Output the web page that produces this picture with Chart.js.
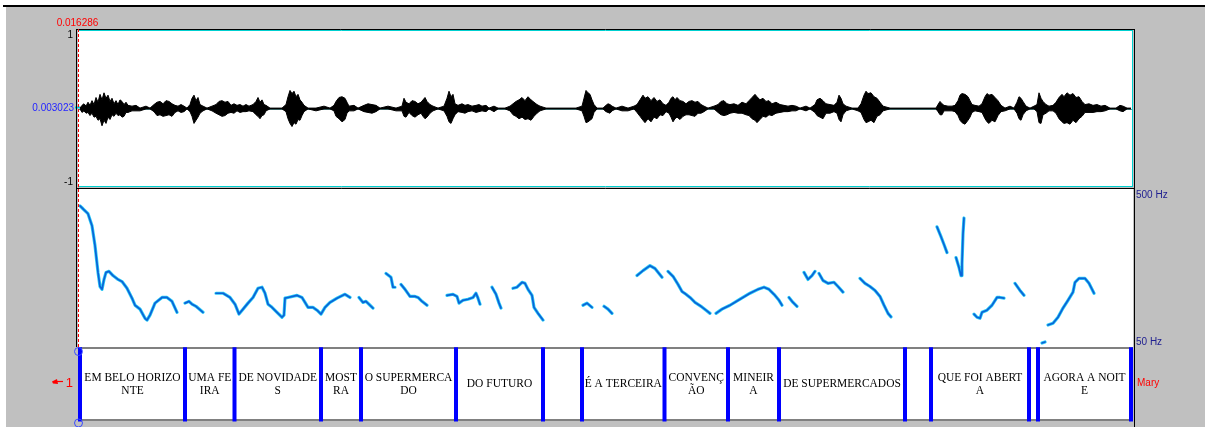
<!DOCTYPE html>
<html>
<head>
<meta charset="utf-8">
<script src="https://cdn.jsdelivr.net/npm/chart.js@4.4.1/dist/chart.umd.min.js"></script>
<style>
  html, body { margin: 0; padding: 0; background: #c0c0c0; overflow: hidden; }
  #stage { position: relative; width: 1205px; height: 427px; }
  #stage canvas { position: absolute; left: 0; top: 0; }
</style>
</head>
<body>
<div id="stage">
  <canvas id="wave" width="1205" height="427"></canvas>
  <canvas id="pitch" width="1205" height="427"></canvas>
  <canvas id="tier" width="1205" height="427"></canvas>
</div>
<script>
// ---- time axis (seconds) ----
const TIME_END = 10.55;
const CURSOR_TIME = 0.016286;
const CURSOR_AMPLITUDE = 0.003023;
const PITCH_FLOOR = 50;
const PITCH_CEILING = 500;

// ---- waveform envelope: time (s), positive peak, negative peak ----
const waveTime = [
  0.02, 0.04, 0.06, 0.08, 0.10, 0.12, 0.14, 0.16, 0.18, 0.20,
  0.22, 0.24, 0.26, 0.28, 0.30, 0.32, 0.34, 0.36, 0.38, 0.40,
  0.42, 0.44, 0.46, 0.48, 0.50, 0.54, 0.58, 0.62, 0.68, 0.72,
  0.76, 0.79, 0.82, 0.85, 0.88, 0.91, 0.94, 0.97, 1.00, 1.03,
  1.06, 1.09, 1.12, 1.14, 1.16, 1.18, 1.20, 1.22, 1.25, 1.29,
  1.34, 1.38, 1.41, 1.44, 1.47, 1.50, 1.53, 1.56, 1.59, 1.62,
  1.65, 1.68, 1.71, 1.75, 1.78, 1.80, 1.82, 1.84, 1.86, 1.88,
  1.92, 2.04, 2.08, 2.10, 2.12, 2.14, 2.16, 2.18, 2.20, 2.22,
  2.24, 2.26, 2.30, 2.38, 2.46, 2.52, 2.56, 2.58, 2.61, 2.64,
  2.67, 2.69, 2.71, 2.76, 2.80, 2.86, 2.90, 2.94, 2.98, 3.02,
  3.10, 3.18, 3.24, 3.26, 3.28, 3.31, 3.34, 3.37, 3.40, 3.43,
  3.45, 3.47, 3.49, 3.52, 3.55, 3.60, 3.66, 3.69, 3.71, 3.73,
  3.75, 3.77, 3.80, 3.84, 3.87, 3.90, 3.94, 3.98, 4.01, 4.04,
  4.08, 4.11, 4.16, 4.20, 4.27, 4.32, 4.35, 4.38, 4.41, 4.44,
  4.47, 4.50, 4.53, 4.56, 4.59, 4.62, 4.68, 4.98, 5.04, 5.06,
  5.08, 5.10, 5.12, 5.14, 5.16, 5.19, 5.25, 5.28, 5.30, 5.32,
  5.34, 5.38, 5.44, 5.50, 5.56, 5.59, 5.62, 5.65, 5.67, 5.70,
  5.73, 5.76, 5.79, 5.82, 5.85, 5.88, 5.91, 5.93, 5.95, 5.97,
  5.99, 6.02, 6.05, 6.08, 6.11, 6.14, 6.17, 6.20, 6.23, 6.26,
  6.30, 6.36, 6.40, 6.43, 6.46, 6.49, 6.52, 6.56, 6.60, 6.64,
  6.68, 6.71, 6.74, 6.77, 6.79, 6.82, 6.85, 6.88, 6.91, 6.94,
  6.98, 7.02, 7.06, 7.10, 7.14, 7.18, 7.22, 7.28, 7.32, 7.37,
  7.39, 7.42, 7.45, 7.48, 7.52, 7.56, 7.59, 7.61, 7.63, 7.65,
  7.68, 7.74, 7.80, 7.83, 7.86, 7.88, 7.90, 7.93, 7.96, 7.99,
  8.02, 8.05, 8.12, 8.58, 8.60, 8.62, 8.64, 8.66, 8.70, 8.74,
  8.77, 8.80, 8.82, 8.84, 8.87, 8.90, 8.92, 8.94, 8.97, 9.01,
  9.04, 9.07, 9.09, 9.11, 9.14, 9.17, 9.20, 9.23, 9.27, 9.32,
  9.36, 9.39, 9.41, 9.43, 9.45, 9.48, 9.52, 9.56, 9.59, 9.61,
  9.63, 9.65, 9.68, 9.71, 9.75, 9.78, 9.81, 9.84, 9.86, 9.89,
  9.92, 9.95, 9.98, 10.01, 10.04, 10.07, 10.11, 10.15, 10.19, 10.23,
  10.27, 10.32, 10.38, 10.42, 10.45, 10.49, 10.53
];
const waveTop = [
  .005, .04, .06, .03, .08, .04, .10, .05, .14, .08,
  .18, .11, .20, .13, .17, .09, .13, .06, .10, .05,
  .11, .09, .05, .08, .04, .03, .04, .005, .03, .005,
  .05, .08, .09, .06, .10, .09, .06, .04, .03, .05,
  .03, .005, .05, .13, .17, .10, .14, .05, .03, .005,
  .03, .05, .09, .10, .08, .09, .04, .06, .04, .05,
  .03, .05, .03, .05, .09, .14, .08, .11, .05, .04,
  .005, .005, .05, .15, .23, .19, .22, .15, .18, .11,
  .08, .04, .005, .005, .03, .005, .04, .09, .14, .15,
  .13, .08, .03, .04, .005, .04, .06, .05, .04, .005,
  .03, .005, .03, .13, .08, .06, .10, .09, .06, .08,
  .11, .14, .09, .05, .03, .005, .03, .13, .22, .15,
  .18, .06, .04, .06, .04, .05, .03, .04, .05, .03,
  .04, .005, .03, .005, .005, .03, .06, .09, .11, .14,
  .10, .15, .11, .08, .05, .03, .005, .005, .03, .13,
  .23, .20, .18, .11, .05, .005, .005, .04, .06, .05,
  .03, .005, .03, .005, .03, .05, .11, .17, .13, .15,
  .10, .14, .09, .11, .06, .04, .08, .13, .15, .11,
  .14, .10, .09, .06, .09, .10, .08, .09, .05, .03,
  .005, .03, .05, .09, .10, .06, .05, .06, .04, .08,
  .06, .10, .14, .18, .15, .11, .13, .09, .10, .06,
  .08, .05, .04, .03, .04, .03, .005, .03, .005, .05,
  .11, .13, .10, .06, .05, .04, .08, .17, .13, .06,
  .03, .005, .005, .06, .17, .22, .19, .20, .15, .13,
  .08, .03, .005, .005, .05, .09, .06, .04, .03, .03,
  .04, .10, .17, .19, .18, .15, .10, .05, .04, .03,
  .06, .15, .19, .17, .18, .14, .10, .04, .005, .03,
  .005, .08, .15, .13, .09, .03, .005, .03, .05, .20,
  .13, .09, .05, .03, .04, .08, .14, .18, .15, .20,
  .17, .19, .14, .15, .09, .05, .06, .04, .05, .03,
  .04, .005, .005, .04, .03, .005, .005
];
const waveBottom = [
  -.005, -.05, -.03, -.06, -.05, -.09, -.06, -.11, -.10, -.15,
  -.13, -.22, -.15, -.19, -.11, -.14, -.08, -.10, -.06, -.09,
  -.08, -.11, -.10, -.05, -.05, -.03, -.03, -.03, -.005, -.005,
  -.04, -.09, -.08, -.10, -.09, -.08, -.10, -.05, -.03, -.05,
  -.04, -.005, -.04, -.10, -.19, -.15, -.11, -.06, -.03, -.005,
  -.03, -.06, -.08, -.10, -.09, -.06, -.05, -.06, -.03, -.05,
  -.04, -.04, -.03, -.04, -.08, -.10, -.13, -.09, -.08, -.03,
  -.005, -.005, -.04, -.13, -.19, -.23, -.18, -.20, -.14, -.15,
  -.09, -.04, -.005, -.03, -.005, -.005, -.03, -.10, -.13, -.17,
  -.14, -.06, -.03, -.03, -.005, -.04, -.05, -.06, -.04, -.005,
  -.005, -.03, -.03, -.10, -.11, -.05, -.09, -.11, -.08, -.06,
  -.10, -.13, -.11, -.06, -.03, -.005, -.03, -.10, -.17, -.19,
  -.13, -.08, -.04, -.05, -.06, -.04, -.03, -.05, -.04, -.03,
  -.04, -.005, -.04, -.005, -.005, -.03, -.08, -.10, -.13, -.11,
  -.14, -.13, -.15, -.10, -.06, -.03, -.005, -.005, -.03, -.10,
  -.18, -.17, -.15, -.13, -.05, -.005, -.005, -.04, -.05, -.06,
  -.03, -.005, -.03, -.03, -.005, -.05, -.10, -.15, -.18, -.13,
  -.17, -.11, -.13, -.08, -.09, -.04, -.06, -.11, -.17, -.13,
  -.11, -.14, -.10, -.08, -.08, -.09, -.10, -.06, -.06, -.04,
  -.005, -.005, -.05, -.08, -.09, -.08, -.06, -.05, -.06, -.06,
  -.08, -.09, -.13, -.15, -.18, -.14, -.10, -.11, -.08, -.09,
  -.06, -.05, -.04, -.04, -.03, -.03, -.005, -.03, -.005, -.05,
  -.09, -.11, -.13, -.06, -.06, -.04, -.06, -.14, -.17, -.08,
  -.03, -.005, -.03, -.05, -.14, -.18, -.17, -.15, -.18, -.10,
  -.08, -.03, -.005, -.005, -.04, -.08, -.08, -.03, -.03, -.03,
  -.04, -.09, -.15, -.18, -.20, -.15, -.11, -.05, -.03, -.04,
  -.05, -.13, -.17, -.19, -.15, -.17, -.09, -.04, -.03, -.005,
  -.005, -.06, -.13, -.15, -.08, -.03, -.005, -.005, -.04, -.18,
  -.19, -.08, -.06, -.03, -.03, -.06, -.13, -.17, -.19, -.18,
  -.20, -.15, -.18, -.13, -.10, -.05, -.05, -.05, -.04, -.04,
  -.03, -.005, -.005, -.03, -.04, -.005, -.005
];

// ---- pitch contour (Hz); null separates voiced stretches ----
const pitchTime = [
  0.02, 0.05, 0.10, 0.14, 0.17, 0.20, 0.22, 0.24, 0.26, 0.28, 0.31, 0.35, 0.40, 0.44, 0.49, 0.54, 0.57, 0.62, 0.67, 0.69, 0.72, 0.77, 0.84, 0.89, 0.94, 0.99, null,
  1.07, 1.11, 1.14, 1.18, 1.25, null,
  1.38, 1.45, 1.52, 1.57, 1.61, 1.65, 1.70, 1.75, 1.80, 1.84, 1.87, 1.90, 1.94, 1.99, 2.04, 2.06, 2.07, 2.10, 2.19, 2.24, 2.27, 2.30, 2.35, 2.39, 2.43, 2.47, 2.52, 2.59, 2.67, 2.72, null,
  2.81, 2.85, 2.88, 2.92, 2.95, null,
  3.08, 3.13, 3.15, 3.17, null,
  3.23, 3.27, 3.32, 3.37, 3.40, 3.44, 3.49, null,
  3.69, 3.75, 3.79, 3.81, 3.85, 3.90, 3.95, 3.98, 4.00, 4.02, null,
  4.14, 4.18, 4.21, 4.23, null,
  4.35, 4.39, 4.44, 4.47, 4.50, 4.54, 4.56, 4.60, 4.65, null,
  5.05, 5.09, 5.14, null,
  5.26, 5.30, 5.34, null,
  5.59, 5.65, 5.72, 5.77, 5.84, null,
  5.90, 5.95, 6.00, 6.04, 6.08, 6.12, 6.17, 6.23, 6.28, 6.32, null,
  6.38, 6.44, 6.52, 6.62, 6.72, 6.80, 6.86, 6.91, 6.96, 7.01, 7.04, null,
  7.11, 7.15, 7.19, null,
  7.26, 7.30, 7.34, 7.37, null,
  7.41, 7.45, 7.50, 7.56, 7.60, 7.65, null,
  7.82, 7.87, 7.92, 7.97, 8.02, 8.06, 8.10, 8.13, null,
  8.59, 8.63, 8.66, 8.69, null,
  8.78, 8.81, 8.83, 8.84, 8.85, 8.86, null,
  8.96, 8.99, 9.02, 9.04, 9.09, 9.14, 9.19, 9.22, 9.26, null,
  9.37, 9.42, 9.46, null,
  9.64, 9.67, null,
  9.70, 9.75, 9.80, 9.85, 9.90, 9.95, 9.97, 10.01, 10.07, 10.11, 10.16
];
const pitchHz = [
  452, 444, 430, 396, 340, 264, 224, 216, 244, 264, 267, 255, 244, 238, 219, 191, 171, 160, 134, 129, 143, 177, 193, 193, 182, 151, null,
  177, 182, 174, 168, 151, null,
  205, 205, 193, 174, 146, 160, 177, 193, 219, 222, 205, 174, 165, 151, 137, 143, 191, 193, 199, 193, 179, 165, 165, 157, 146, 165, 179, 191, 202, 193, null,
  193, 179, 182, 171, 163, null,
  261, 250, 222, 222, null,
  230, 216, 196, 196, 193, 182, 171, null,
  199, 202, 196, 177, 185, 188, 193, 205, 191, 174, null,
  222, 202, 177, 163, null,
  219, 222, 236, 233, 216, 199, 165, 148, 129, null,
  171, 177, 165, null,
  168, 160, 148, null,
  255, 269, 283, 275, 250, null,
  267, 253, 230, 210, 202, 193, 179, 168, 157, 148, null,
  148, 160, 171, 188, 205, 216, 222, 216, 202, 185, 171, null,
  193, 179, 168, null,
  264, 244, 255, 267, null,
  261, 241, 233, 236, 224, 208, null,
  247, 233, 224, 213, 196, 171, 148, 138, null,
  393, 365, 343, 320, null,
  306, 278, 255, 289, 373, 418, null,
  146, 137, 134, 151, 157, 171, 193, 193, 191, null,
  233, 213, 199, null,
  64, 67, null,
  115, 120, 137, 163, 185, 208, 236, 247, 247, 233, 205
];

// ---- interval tier "Mary" ----
const tierName = 'Mary';
const tierNumber = '1';
const tierBounds = [0.02, 1.07, 1.565, 2.43, 2.83, 3.78, 4.65, 5.04, 5.865, 6.50, 7.01, 8.27, 8.53, 9.51, 9.60, 10.53];
const tierLabels = [
  'EM BELO HORIZO\nNTE', 'UMA FE\nIRA', 'DE NOVIDADE\nS', 'MOST\nRA', 'O SUPERMERCA\nDO',
  'DO FUTURO', '', 'É A TERCEIRA', 'CONVENÇ\nÃO', 'MINEIR\nA',
  'DE SUPERMERCADOS', '', 'QUE FOI ABERT\nA', '', 'AGORA A NOIT\nE'
];

// ---- shared settings ----
const SANS = '"Liberation Sans", Arial, sans-serif';
const timeAxis = () => ({ type: 'linear', min: 0, max: TIME_END, display: false });
const baseOptions = (padding) => ({
  responsive: false,
  animation: false,
  devicePixelRatio: 1,
  events: [],
  layout: { padding },
  plugins: { legend: { display: false }, tooltip: { enabled: false } }
});
function hLine(ctx, x1, x2, y, color, w) {
  ctx.strokeStyle = color; ctx.lineWidth = w || 1;
  ctx.beginPath(); ctx.moveTo(x1, y); ctx.lineTo(x2, y); ctx.stroke();
}
function vLine(ctx, x, y1, y2, color, w) {
  ctx.strokeStyle = color; ctx.lineWidth = w || 1;
  ctx.beginPath(); ctx.moveTo(x, y1); ctx.lineTo(x, y2); ctx.stroke();
}

// ---- waveform panel ----
const wavePanel = {
  id: 'wavePanel',
  beforeDatasetsDraw(chart) {
    const { ctx, chartArea: a, scales: { y } } = chart;
    ctx.save();
    ctx.fillStyle = '#fff';
    ctx.fillRect(0, 0, chart.width, 5);
    ctx.fillRect(0, 0, 6, chart.height);
    ctx.fillStyle = '#000';
    ctx.fillRect(3, 5, chart.width - 3, 2);
    ctx.fillStyle = '#fff';
    ctx.fillRect(a.left, a.top, a.right - a.left, a.bottom - a.top);
    const y0 = Math.round(y.getPixelForValue(0)) + 0.5;
    hLine(ctx, a.left, a.right, y0, '#5a9a9a', 1);
    ctx.restore();
  },
  afterDraw(chart) {
    const { ctx, chartArea: a, scales: { y } } = chart;
    ctx.save();
    hLine(ctx, a.left, a.right, a.top + 0.5, '#00d0d0', 1);
    hLine(ctx, a.left, a.right, a.bottom - 0.5, '#00d0d0', 1);
    vLine(ctx, a.right - 0.5, a.top, a.bottom, '#00d0d0', 1);
    const yc = y.getPixelForValue(CURSOR_AMPLITUDE);
    hLine(ctx, a.left - 3, a.left + 2, Math.round(yc) - 0.5, '#00c8d8', 2);
    ctx.font = '10px ' + SANS;
    ctx.textAlign = 'right';
    ctx.textBaseline = 'alphabetic';
    ctx.fillStyle = '#000';
    ctx.fillText('1', a.left - 5, y.getPixelForValue(1) + 8);
    ctx.fillText('-1', a.left - 5, y.getPixelForValue(-1) - 2);
    ctx.fillStyle = '#2424ff';
    ctx.fillText(String(CURSOR_AMPLITUDE), a.left - 4, yc + 3);
    ctx.restore();
  }
};

new Chart(document.getElementById('wave'), {
  type: 'line',
  data: {
    datasets: [
      {
        data: waveTime.map((t, i) => ({ x: t, y: waveTop[i] })),
        borderColor: '#000', backgroundColor: '#000', borderWidth: 1,
        pointRadius: 0, tension: 0, fill: '+1'
      },
      {
        data: waveTime.map((t, i) => ({ x: t, y: waveBottom[i] })),
        borderColor: '#000', borderWidth: 1, pointRadius: 0, tension: 0, fill: false
      }
    ]
  },
  options: Object.assign(baseOptions({ left: 78, right: 72, top: 30, bottom: 240 }), {
    scales: { x: timeAxis(), y: { type: 'linear', min: -1, max: 1, display: false } }
  }),
  plugins: [wavePanel]
});

// ---- pitch panel ----
const pitchPanel = {
  id: 'pitchPanel',
  beforeDatasetsDraw(chart) {
    const { ctx, chartArea: a } = chart;
    ctx.save();
    ctx.fillStyle = '#fff';
    ctx.fillRect(a.left, a.top, a.right - a.left, a.bottom - a.top);
    ctx.restore();
  },
  afterDraw(chart) {
    const { ctx, chartArea: a, scales: { y } } = chart;
    ctx.save();
    ctx.font = '10px ' + SANS;
    ctx.fillStyle = '#202090';
    ctx.textAlign = 'left';
    ctx.textBaseline = 'alphabetic';
    ctx.fillText(PITCH_CEILING + ' Hz', a.right + 3, y.getPixelForValue(PITCH_CEILING) + 8.5);
    ctx.fillText(PITCH_FLOOR + ' Hz', a.right + 3, y.getPixelForValue(PITCH_FLOOR) - 3);
    ctx.restore();
  }
};

const pitchPoints = pitchTime.map((t, i) => ({ x: t === null ? pitchTime[i - 1] : t, y: pitchHz[i] }));

// dataset 0 is painted last, so the blue core goes first and the cyan rim second
new Chart(document.getElementById('pitch'), {
  type: 'line',
  data: {
    datasets: [
      {
        data: pitchPoints, borderColor: '#0b62d8', borderWidth: 1.7,
        pointRadius: 0, tension: 0, spanGaps: false, borderJoinStyle: 'round', borderCapStyle: 'round'
      },
      {
        data: pitchPoints, borderColor: '#2ccdf6', borderWidth: 3.2,
        pointRadius: 0, tension: 0, spanGaps: false, borderJoinStyle: 'round', borderCapStyle: 'round'
      }
    ]
  },
  options: Object.assign(baseOptions({ left: 78, right: 72, top: 189, bottom: 79 }), {
    scales: { x: timeAxis(), y: { type: 'linear', min: PITCH_FLOOR, max: PITCH_CEILING, display: false } }
  }),
  plugins: [pitchPanel]
});

// ---- text tier, frame and time cursor ----
const tierPanel = {
  id: 'tierPanel',
  beforeDatasetsDraw(chart) {
    const { ctx, chartArea: a } = chart;
    ctx.save();
    ctx.fillStyle = '#fff';
    ctx.fillRect(a.left, a.top, a.right - a.left, a.bottom - a.top);
    ctx.fillStyle = '#808080';
    ctx.fillRect(a.left, a.top - 1, a.right - a.left, 2);
    ctx.fillRect(a.left, a.bottom - 1, a.right - a.left, 2);
    ctx.restore();
  },
  afterDraw(chart) {
    const { ctx, chartArea: a, scales: { x } } = chart;
    ctx.save();

    // interval texts
    ctx.font = '13.5px "Liberation Serif", "Times New Roman", serif';
    ctx.fillStyle = '#000';
    ctx.textAlign = 'center';
    ctx.textBaseline = 'alphabetic';
    const mid = (a.top + a.bottom) / 2;
    tierLabels.forEach((label, i) => {
      if (!label) return;
      const cx = (x.getPixelForValue(tierBounds[i]) + x.getPixelForValue(tierBounds[i + 1])) / 2;
      const lines = label.split('\n');
      const first = mid + 3 - (lines.length - 1) * 6.5;
      lines.forEach((line, k) => {
        ctx.save();
        ctx.translate(cx, first + k * 13);
        ctx.scale(0.85, 1);
        ctx.fillText(line, 0, 0);
        ctx.restore();
      });
    });

    // boundary handles on the first boundary
    const bx = x.getPixelForValue(tierBounds[0]) - 1.5;
    ctx.strokeStyle = '#3a4cff';
    ctx.lineWidth = 1;
    ctx.beginPath(); ctx.arc(bx, a.top + 3.5, 4, 0, Math.PI * 2); ctx.stroke();
    ctx.beginPath(); ctx.arc(bx, a.bottom + 3, 4, 0, Math.PI * 2); ctx.stroke();

    // tier number with pointer, and tier name
    ctx.fillStyle = '#ff0000';
    ctx.strokeStyle = '#ff0000';
    ctx.font = '13px ' + SANS;
    ctx.textAlign = 'right';
    ctx.fillText(tierNumber, a.left - 5, mid + 2.5);
    ctx.beginPath();
    ctx.moveTo(52, mid - 2.5); ctx.lineTo(57, mid - 5); ctx.lineTo(58, mid); ctx.lineTo(53, mid - 0.5);
    ctx.closePath(); ctx.fill();
    hLine(ctx, 56, 63, mid - 2.5, '#ff0000', 1.2);
    ctx.font = '10px ' + SANS;
    ctx.textAlign = 'left';
    ctx.fillText(tierName, a.right + 4, mid + 1.5);

    // outer frame of the editor
    hLine(ctx, 76, 1135, 29.5, '#000', 1);
    hLine(ctx, 77, 1134, 188.5, '#000', 1);
    vLine(ctx, 76.5, 29, a.top - 1, '#000', 1);
    vLine(ctx, 1134.5, 29, chart.height, '#000', 1);

    // time cursor
    const cx = Math.floor(x.getPixelForValue(CURSOR_TIME)) - 0.5;
    ctx.setLineDash([3, 2]);
    vLine(ctx, cx, 29, a.top - 1, '#ff0000', 1);
    ctx.setLineDash([]);
    ctx.font = '10px ' + SANS;
    ctx.textAlign = 'center';
    ctx.fillStyle = '#ff0000';
    ctx.fillText(String(CURSOR_TIME), cx - 1, 26);
    ctx.restore();
  }
};

const boundaryPoints = tierBounds.flatMap(t => [{ x: t, y: -0.02 }, { x: t, y: 1.01 }, { x: t, y: null }]);

new Chart(document.getElementById('tier'), {
  type: 'line',
  data: {
    datasets: [
      {
        data: boundaryPoints, borderColor: '#0000ff', borderWidth: 4,
        pointRadius: 0, tension: 0, spanGaps: false, clip: false, borderCapStyle: 'butt'
      }
    ]
  },
  options: Object.assign(baseOptions({ left: 78, right: 72, top: 348, bottom: 7 }), {
    scales: { x: timeAxis(), y: { type: 'linear', min: 0, max: 1, display: false } }
  }),
  plugins: [tierPanel]
});
</script>
</body>
</html>
